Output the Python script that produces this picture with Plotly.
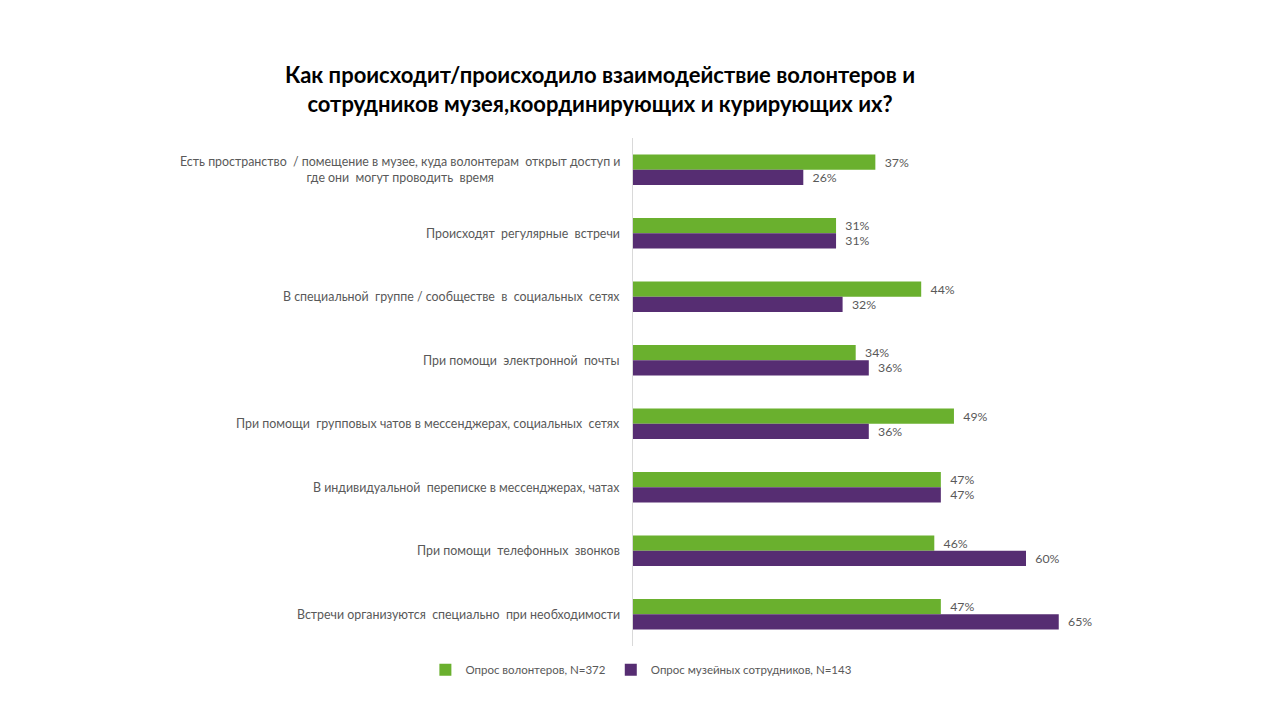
import plotly.graph_objects as go

categories = [
    "Есть пространство  / помещение в музее, куда волонтерам  открыт доступ и<br>где они  могут проводить  время",
    "Происходят  регулярные  встречи",
    "В специальной  группе / сообществе  в  социальных  сетях",
    "При помощи  электронной  почты",
    "При помощи  групповых чатов в мессенджерах, социальных  сетях",
    "В индивидуальной  переписке в мессенджерах, чатах",
    "При помощи  телефонных  звонков",
    "Встречи организуются  специально  при необходимости",
]
volunteers = [37, 31, 44, 34, 49, 47, 46, 47]
staff = [26, 31, 32, 36, 36, 47, 60, 65]
series_names = ["Опрос волонтеров, N=372", "Опрос музейных сотрудников, N=143"]

GREEN = "#6AB02E"
PURPLE = "#562D72"
GREY = "#595959"
FONT = "Lato"

fig = go.Figure()
for name, vals, col in [(series_names[0], volunteers, GREEN), (series_names[1], staff, PURPLE)]:
    fig.add_trace(go.Bar(
        y=categories, x=vals, orientation="h", name=name,
        marker=dict(color=col, line=dict(width=0)),
        text=[f"\u00a0\u00a0{v}%" for v in vals], textposition="outside",
        textfont=dict(family=FONT, size=12.3, color=GREY),
        cliponaxis=False,
    ))

for c in categories:
    fig.add_annotation(
        x=0, xref="paper", y=c, yref="y", xanchor="right", xshift=-11,
        text=c, showarrow=False, align="center",
        font=dict(family=FONT, size=12.4, color=GREY),
    )

fig.update_layout(
    width=1280, height=720,
    margin=dict(l=633, r=123, t=138, b=74),
    paper_bgcolor="white", plot_bgcolor="white",
    barmode="group", bargap=0.52, bargroupgap=0,
    title=dict(
        text="<b>Как происходит/происходило взаимодействие волонтеров и<br>сотрудников музея,координирующих и курирующих их?</b>",
        x=600/1280, xanchor="center", xref="container",
        y=1-83/720, yanchor="top", yref="container",
        font=dict(family=FONT, size=22, color="black"),
    ),
    xaxis=dict(range=[0, 80], showticklabels=False, showgrid=False, zeroline=False, showline=False),
    yaxis=dict(autorange="reversed", showticklabels=False, showgrid=False, zeroline=False,
               showline=True, linecolor="#D9D9D9", linewidth=1, ticks=""),
    legend=dict(orientation="h", x=0.016, xanchor="center", y=-0.018, yanchor="top",
                font=dict(family=FONT, size=11.5, color=GREY), traceorder="normal",
                itemwidth=30),
    showlegend=True,
)

fig.write_html("out.html")
